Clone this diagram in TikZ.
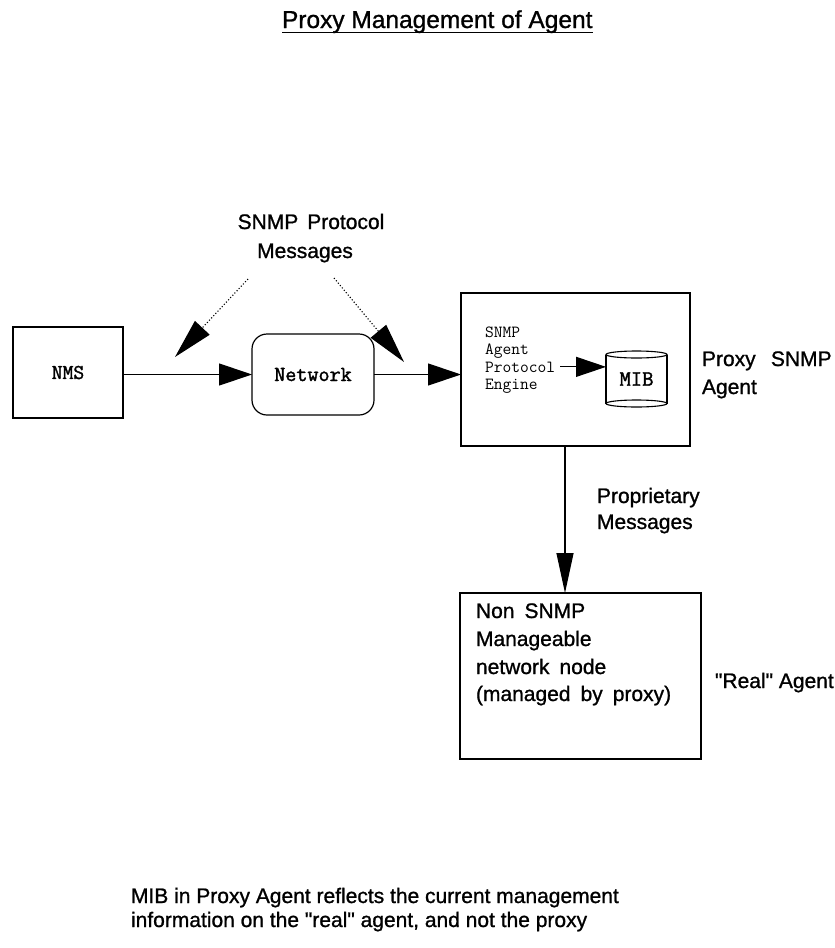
\documentclass[tikz,border=0pt]{standalone}
\usepackage{fontspec}
\setmainfont{Liberation Sans}
\newfontfamily\sanslbl[FakeBold=1.0]{Liberation Sans}
\newfontfamily\ttlight{Latin Modern Mono}
\newfontfamily\ttheavy[FakeBold=1.6]{Latin Modern Mono}
\usetikzlibrary{arrows.meta}
\begin{document}
\begin{tikzpicture}[x=1pt,y=-1pt,
  every node/.style={inner sep=0pt,outer sep=0pt},
  lbl/.style={font=\sanslbl\fontsize{21}{27}\selectfont},
  titletext/.style={font=\sanslbl\fontsize{24.5}{29}\selectfont},
  boxline/.style={draw,line width=1.2pt},
  engtext/.style={font=\ttlight\fontsize{17}{18}\selectfont},
  arrH/.style={line width=1.2pt,-{Triangle[length=33pt,width=22pt]}},
  arrV/.style={line width=1.2pt,-{Triangle[length=40pt,width=17pt]}},
  arrS/.style={line width=1.2pt,-{Triangle[length=30pt,width=20pt]}},
  arrD/.style={line width=1.1pt,dotted,-{Triangle[length=40pt,width=20pt]}}
]
\useasboundingbox[fill=white] (0,0) rectangle (835,948);

% title
\node[titletext,anchor=base west] (title) at (282,28) {Proxy Management of Agent};
\draw[line width=1.6pt] ([yshift=-4.5pt]title.base west) -- ([yshift=-4.5pt]title.base east);

% SNMP protocol messages label
\node[lbl,anchor=base] (spm1) at (311,229) {SNMP\hspace{0.15em} Protocol};
\node[lbl,anchor=base] (spm2) at (305,258) {Messages};
\coordinate (dL0) at (248,279);
\coordinate (dR0) at (334,278);
\coordinate (tipL) at (175,357);
\coordinate (tipR) at (404,362);
\draw[arrD] (dL0) -- (tipL);
\draw[arrD] (dR0) -- (tipR);

% NMS
\node[boxline,minimum width=110pt,minimum height=91pt,
      font=\ttheavy\fontsize{21}{22}\selectfont] (nms) at (68,372.5) {NMS};

% Network
\node[boxline,rounded corners=15pt,minimum width=122pt,minimum height=81pt,
      font=\ttheavy\fontsize{21.5}{22}\selectfont] (net) at (313,374.5) {Network};

% Proxy agent box
\node[boxline,minimum width=229pt,minimum height=153pt] (proxy) at (575.5,369.5) {};
\node[engtext,anchor=base west] (e1) at (485,337) {SNMP};
\node[engtext,anchor=base west] (e2) at (485,354.5) {Agent};
\node[engtext,anchor=base west] (e3) at (485,372) {Protocol};
\node[engtext,anchor=base west] (e4) at (485,389.5) {Engine};

% MIB cylinder
\node[minimum width=61pt,minimum height=56pt,
      font=\ttheavy\fontsize{22}{22}\selectfont] (mib) at (636.5,379) {MIB};
\draw[line width=1.1pt] ([yshift=-3.5pt]mib.north west) -- ([yshift=3.5pt]mib.south west)
      ([yshift=-3.5pt]mib.north east) -- ([yshift=3.5pt]mib.south east);
\draw[line width=1.1pt] ([yshift=-3.5pt]mib.north) ellipse [x radius=30.5pt,y radius=3.5pt];
\draw[line width=1.1pt] ([yshift=3.5pt]mib.south) ellipse [x radius=30.5pt,y radius=3.5pt];

\node[lbl,anchor=base west] (pa1) at (702,366) {Proxy\hspace{0.45em} SNMP};
\node[lbl,anchor=base west] (pa2) at (702,394) {Agent};

% real agent box
\node[boxline,minimum width=241pt,minimum height=166pt] (real) at (580.5,676) {};
\node[lbl,anchor=base west] (r1) at (476,618) {Non\hspace{0.2em} SNMP};
\node[lbl,anchor=base west] (r2) at (476,646) {Manageable};
\node[lbl,anchor=base west] (r3) at (476,674) {network\hspace{0.2em} node};
\node[lbl,anchor=base west] (r4) at (476,701) {(managed\hspace{0.2em} by\hspace{0.2em} proxy)};
\node[lbl,anchor=base west] (ra) at (715,688) {"Real" Agent};

\node[lbl,anchor=base west] (pm1) at (597,503) {Proprietary};
\node[lbl,anchor=base west] (pm2) at (597,529) {Messages};

% connectors
\draw[arrH] (nms.east |- net.west) -- (net.west);
\draw[arrH] (net.east) -- (net.east -| proxy.west);
\draw[arrS] ([xshift=5pt]e3.east) -- (e3.east -| mib.west);
\draw[arrV] ([xshift=-10.5pt]proxy.south) -- ([xshift=-10.5pt]proxy.south |- real.north);

% bottom note
\node[lbl,anchor=base west] (n1) at (131,903) {MIB in Proxy Agent reflects the current management};
\node[lbl,anchor=base west] (n2) at (131,927) {information on the "real" agent, and not the proxy};
\end{tikzpicture}
\end{document}
